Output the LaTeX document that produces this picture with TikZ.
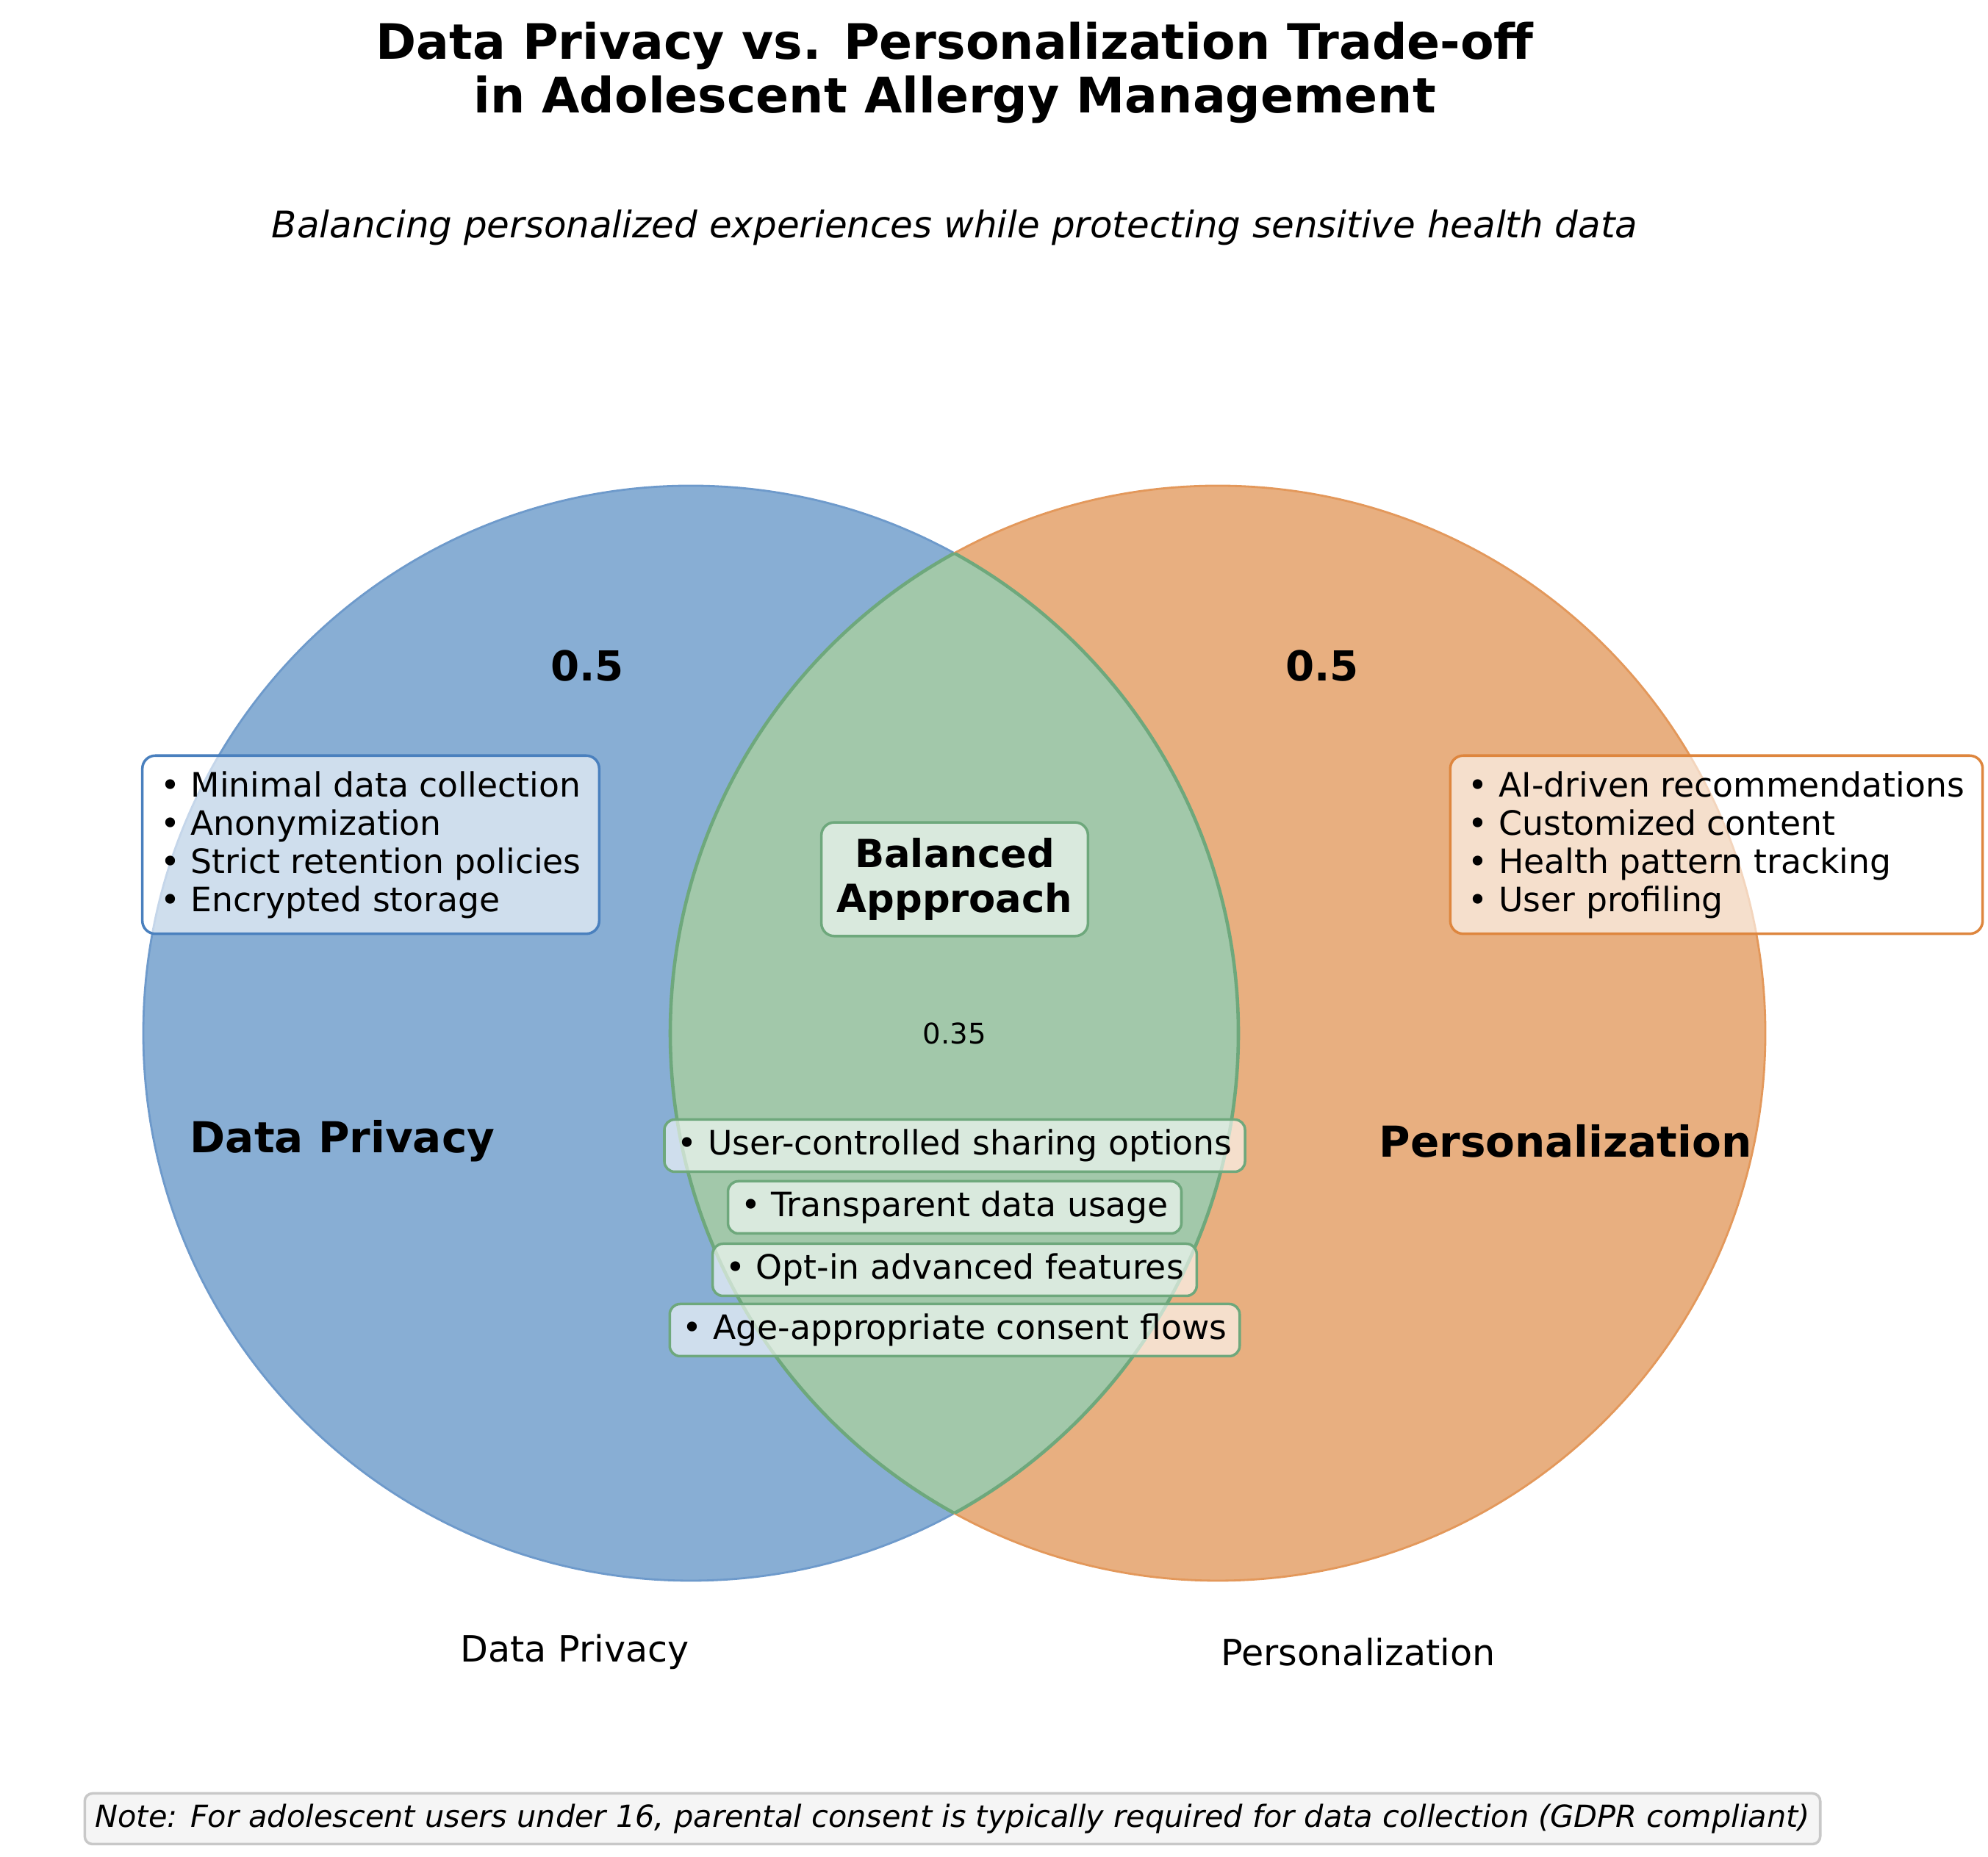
\documentclass[tikz,border=0pt]{standalone}
\usepackage{fontspec}
\setmainfont{DejaVu Sans}
\usepackage{tikz}
\usetikzlibrary{positioning}

\definecolor{privfill}{RGB}{136,174,212}
\definecolor{privedge}{RGB}{74,128,190}
\definecolor{persfill}{RGB}{232,175,128}
\definecolor{persedge}{RGB}{222,134,62}
\definecolor{balfill}{RGB}{162,200,170}
\definecolor{baledge}{RGB}{110,168,124}
\definecolor{notefill}{RGB}{245,245,245}
\definecolor{noteedge}{RGB}{200,200,200}

\begin{document}
\begin{tikzpicture}[
	sidebox/.style={draw, line width=1pt, rounded corners=5pt, fill=white, fill opacity=0.6, text opacity=1, align=left, inner xsep=7pt, inner ysep=6pt, font=\fontsize{13}{14.8}\selectfont},
	itembox/.style={draw=baledge, line width=1pt, rounded corners=4pt, fill=white, fill opacity=0.6, text opacity=1, inner xsep=5pt, minimum height=0.71cm, font=\fontsize{13}{15}\selectfont},
	share/.style={font=\fontsize{16}{19}\selectfont\bfseries},
	setname/.style={font=\fontsize{16.5}{19}\selectfont\bfseries}]
	\useasboundingbox (0,0) rectangle (27.05,25.27);
	% circles
	\draw[privedge!80, line width=0.8pt, fill=privfill] (9.40,11.21) circle (7.45);
	\draw[persedge!85, line width=0.8pt, fill=persfill] (16.57,11.21) circle (7.45);
	\begin{scope}
	  \clip (9.40,11.21) circle (7.45);
	  \draw[baledge, line width=1.3pt, fill=balfill] (16.57,11.21) circle (7.45);
	\end{scope}
	\begin{scope}
	  \clip (16.57,11.21) circle (7.45);
	  \draw[baledge, line width=1.3pt] (9.40,11.21) circle (7.45);
	\end{scope}
	% title
	\node[align=center, font=\fontsize{18.9}{20.6}\selectfont\bfseries] (title) at (12.99,24.28) {Data Privacy vs. Personalization Trade-off\\in Adolescent Allergy Management};
	\node[font=\fontsize{14.2}{16}\selectfont\itshape] (subtitle) at (12.99,22.17) {Balancing personalized experiences while protecting sensitive health data};
	% region values
	\node[share] (privval) at (7.99,16.21) {0.5};
	\node[share] (persval) at (17.99,16.21) {0.5};
	\node[font=\fontsize{11}{13}\selectfont] (balval) at (12.99,11.21) {0.35};
	\node[setname] (privname) at (4.66,9.74) {Data Privacy};
	\node[setname] (persname) at (21.30,9.74) {Personalization};
	\node[font=\fontsize{14}{16}\selectfont] (privlab) at (7.82,2.79) {Data Privacy};
	\node[font=\fontsize{14}{16}\selectfont] (perslab) at (18.48,2.79) {Personalization};
	% side boxes
	\node[sidebox, draw=privedge] (privbox) at (5.045,13.775) {• Minimal data collection\\• Anonymization\\• Strict retention policies\\• Encrypted storage};
	\node[sidebox, draw=persedge] (persbox) at (23.355,13.775) {• AI-driven recommendations\\• Customized content\\• Health pattern tracking\\• User profiling};
	\node[sidebox, draw=baledge, align=center, inner xsep=6pt, font=\fontsize{15}{17.5}\selectfont\bfseries] (balbox) at (12.99,13.305) {Balanced\\Appproach};
	% balanced items
	\node[itembox] (item1) at (12.99,9.68) {• User-controlled sharing options};
	\node[itembox] (item2) at (12.99,8.84) {• Transparent data usage};
	\node[itembox] (item3) at (12.99,7.99) {• Opt-in advanced features};
	\node[itembox] (item4) at (12.99,7.17) {• Age-appropriate consent flows};
	% note
	\node[draw=noteedge, line width=1pt, fill=notefill, rounded corners=3pt, inner xsep=4pt, minimum height=0.69cm, font=\fontsize{11.8}{14}\selectfont\itshape] (note) at (12.96,0.52) {Note: For adolescent users under 16, parental consent is typically required for data collection (GDPR compliant)};
\end{tikzpicture}
\end{document}
